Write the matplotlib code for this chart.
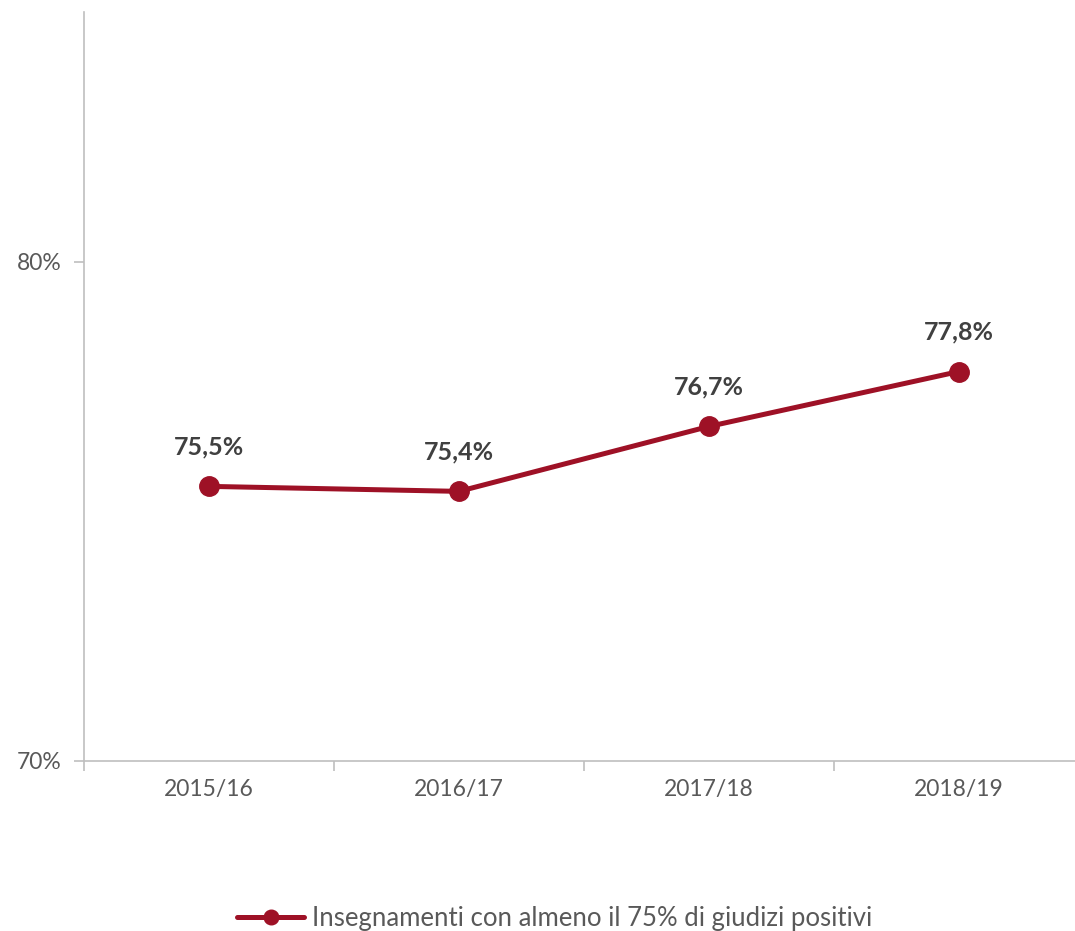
import matplotlib.pyplot as plt

plt.rcParams['font.family'] = ['Lato', 'DejaVu Sans']

# anni accademici e percentuali
anni = ['2015/16', '2016/17', '2017/18', '2018/19']
valori = [75.5, 75.4, 76.7, 77.8]
etichette = ['75,5%', '75,4%', '76,7%', '77,8%']
serie = 'Insegnamenti con almeno il 75% di giudizi positivi'

rosso = '#9E1126'
grigio = '#BFBFBF'

fig = plt.figure(figsize=(10.75, 9.31), dpi=100)
ax = fig.add_axes([0.0781, 0.1826, 0.9302, 0.8045])

x = list(range(len(anni)))
ax.plot(x, valori, '-o', color=rosso, lw=3.6, markersize=14, label=serie,
        solid_capstyle='round', clip_on=False, zorder=3)

for xi, v, lab in zip(x, valori, etichette):
    ax.annotate(lab, (xi, v), xytext=(0, 20), textcoords='offset points',
                ha='center', va='bottom', fontsize=18, fontweight='bold',
                color='#404040')

ax.set_xlim(-0.5, len(anni) - 0.5)
ax.set_ylim(70, 85)
ax.set_yticks([70, 80])
ax.set_yticklabels(['70%', '80%'])
ax.set_xticks(x)
ax.set_xticklabels(anni)
ax.set_xticks([i - 0.5 for i in range(len(anni) + 1)], minor=True)

ax.tick_params(axis='x', which='major', length=0, pad=13, labelsize=16.5,
               labelcolor='#595959')
ax.tick_params(axis='x', which='minor', length=7, color=grigio, width=1.2)
ax.tick_params(axis='y', length=7, color=grigio, width=1.2, labelsize=16.5,
               labelcolor='#595959', pad=9)

for s in ['top', 'right']:
    ax.spines[s].set_visible(False)
for s in ['left', 'bottom']:
    ax.spines[s].set_color(grigio)
    ax.spines[s].set_linewidth(1.2)

fig.legend(loc='lower center', bbox_to_anchor=(0.516, -0.025), frameon=False,
           fontsize=18.5, labelcolor='#595959', handlelength=2.6,
           handletextpad=0.3, markerscale=0.75)

fig.savefig('out.png', dpi=100)
